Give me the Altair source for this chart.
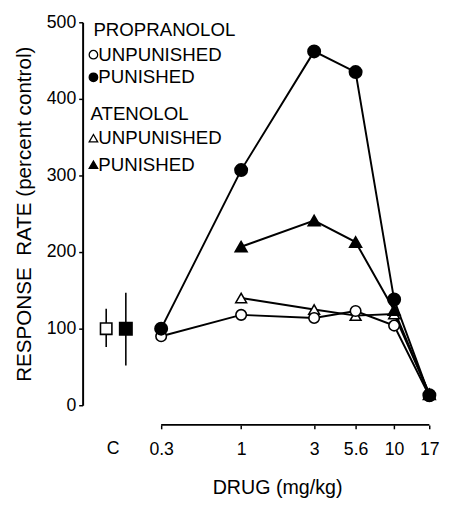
import altair as alt
import pandas as pd

# ---------------- data ----------------
prop_doses = [0.3, 1, 3, 5.6, 10, 17]
prop_unpunished = [90, 118, 114, 123, 104, 12]
prop_punished = [100, 307, 462, 435, 138, 13]

aten_doses = [1, 3, 5.6, 10, 17]
aten_unpunished = [140, 125, 117, 119, 15]
aten_punished = [207, 241, 213, 124, 14]

control_groups = ["unpunished", "punished"]
control_mean = [100, 100]
control_lo = [76, 52]
control_hi = [126, 147]

tick_values = [0.3, 1, 3, 5.6, 10, 17]
y_ticks = [0, 100, 200, 300, 400, 500]

legend_rows = ["PROPRANOLOL", "UNPUNISHED", "PUNISHED", "ATENOLOL", "UNPUNISHED", "PUNISHED"]

# ---------------- tables ----------------
rows = []
for d, v in zip(prop_doses, prop_unpunished):
    rows.append({"dose": d, "rate": v, "series": "prop_unp"})
for d, v in zip(prop_doses, prop_punished):
    rows.append({"dose": d, "rate": v, "series": "prop_pun"})
for d, v in zip(aten_doses, aten_unpunished):
    rows.append({"dose": d, "rate": v, "series": "aten_unp"})
for d, v in zip(aten_doses, aten_punished):
    rows.append({"dose": d, "rate": v, "series": "aten_pun"})
df = pd.DataFrame(rows)

ctrl = pd.DataFrame({"group": control_groups, "mean": control_mean,
                     "lo": control_lo, "hi": control_hi})

# ---------------- layout ----------------
W, H = 361, 390
FONT = "Liberation Sans"
x_scale = alt.Scale(type="log", domain=[0.092, 19.1], nice=False)
y_scale = alt.Scale(domain=[0, 500], nice=False)

x_axis = alt.Axis(values=tick_values, format="~g", grid=False, domain=False,
                  offset=20, tickSize=4, tickColor="black", tickWidth=1.5,
                  labelFontSize=18, labelFont=FONT, labelColor="black",
                  labelPadding=12, labelFlush=False,
                  title="DRUG (mg/kg)", titleFontSize=20, titleFont=FONT,
                  titleFontWeight="normal", titleColor="black", titlePadding=20,
                  titleX=198)
y_axis = alt.Axis(values=y_ticks, grid=False, domainColor="black", domainWidth=2,
                  tickSize=4, tickColor="black", tickWidth=1.5,
                  labelFontSize=18, labelFont=FONT, labelColor="black", labelPadding=3,
                  title="RESPONSE\u00a0\u00a0RATE (percent control)", titleFontSize=21,
                  titleFont=FONT, titleFontWeight="normal", titleColor="black",
                  titlePadding=12)

base = alt.Chart(df)

lines = base.mark_line(color="black", strokeWidth=2).encode(
    x=alt.X("dose:Q", scale=x_scale, axis=x_axis),
    y=alt.Y("rate:Q", scale=y_scale, axis=y_axis),
    detail="series:N",
    order="dose:Q",
)


def pts(series, shape, filled, size):
    if filled:
        mk = alt.Chart(df).mark_point(shape=shape, filled=True, fill="black",
                                      stroke="black", size=size, opacity=1)
    else:
        mk = alt.Chart(df).mark_point(shape=shape, filled=True, fill="white",
                                      stroke="black", strokeWidth=1.6, size=size, opacity=1)
    return mk.encode(x=alt.X("dose:Q", scale=x_scale),
                     y=alt.Y("rate:Q", scale=y_scale)).transform_filter(
        alt.datum.series == series)


p_aten_unp = pts("aten_unp", "triangle-up", False, 120)
p_prop_unp = pts("prop_unp", "circle", False, 115)
p_aten_pun = pts("aten_pun", "triangle-up", True, 130)
p_prop_pun = pts("prop_pun", "circle", True, 150)

# x-axis line spanning the dose range only
axis_line = alt.Chart(pd.DataFrame({"a": [tick_values[0]], "b": [tick_values[-1]]})).mark_rule(
    color="black", strokeWidth=1.8).encode(
    x=alt.X("a:Q", scale=x_scale), x2="b:Q", y=alt.value(H + 20))

# control points
ctrl_x = {"unpunished": 24, "punished": 44}
ctrl_layers = []
for g in control_groups:
    c = alt.Chart(ctrl).transform_filter(alt.datum.group == g)
    ctrl_layers.append(c.mark_rule(color="black", strokeWidth=1.6).encode(
        x=alt.value(ctrl_x[g]), y=alt.Y("lo:Q", scale=y_scale), y2="hi:Q"))
    ctrl_layers.append(c.mark_point(shape="square", filled=True,
                                    fill="white" if g == "unpunished" else "black",
                                    stroke="black", strokeWidth=1.6,
                                    size=135 if g == "unpunished" else 160, opacity=1).encode(
        x=alt.value(ctrl_x[g]), y=alt.Y("mean:Q", scale=y_scale)))

c_label = alt.Chart(pd.DataFrame({"t": ["C"]})).mark_text(
    font=FONT, fontSize=18, color="black", align="center", baseline="alphabetic").encode(
    x=alt.value(31), y=alt.value(H + 50), text="t:N")

# legend (text block inside plot)
legend_y = [14, 39, 62, 99, 124, 151]
legend_symbol = [None, ("circle", False), ("circle", True), None,
                 ("triangle-up", False), ("triangle-up", True)]
legend_x = [11, 16, 16, 8, 16, 16]
legend_layers = []
for label, yy, sym, tx in zip(legend_rows, legend_y, legend_symbol, legend_x):
    legend_layers.append(alt.Chart(pd.DataFrame({"t": [label]})).mark_text(
        font=FONT, fontSize=19, color="black", align="left", baseline="alphabetic").encode(
        x=alt.value(tx), y=alt.value(yy), text="t:N"))
    if sym is not None:
        shape, filled = sym
        legend_layers.append(alt.Chart(pd.DataFrame({"t": [label]})).mark_point(
            shape=shape, filled=True, fill="black" if filled else "white",
            stroke="black", strokeWidth=1.3, size=75, opacity=1).encode(
            x=alt.value(11), y=alt.value(yy - 6)))

chart = alt.layer(
    lines, axis_line, p_aten_unp, p_prop_unp, p_aten_pun, p_prop_pun,
    *ctrl_layers, c_label, *legend_layers
).properties(
    width=W, height=H,
    autosize=alt.AutoSizeParams(type="none"),
    padding={"left": 76, "top": 10, "right": 6, "bottom": 95},
).configure_view(stroke=None)

chart.save("out.html", embed_options={"renderer": "svg", "actions": False})
